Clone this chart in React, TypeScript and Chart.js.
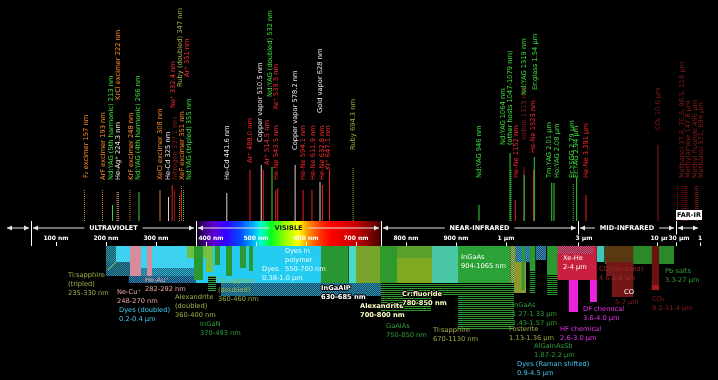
import React, { useEffect, useRef } from 'react';
import { Chart, registerables, LinearScale } from 'chart.js';

Chart.register(...registerables);

/* ---------------- wavelength axis: linear up to 1 µm, logarithmic beyond ---------------- */
const axisBreaksNm = [0, 1000, 3000, 10000, 30000, 1000000];
const axisBreakFrac = [6, 506, 578, 657, 676, 700].map((v) => v / 718);

function waveFrac(nm: number): number {
  if (nm <= axisBreaksNm[1]) {
    return axisBreakFrac[0] + ((axisBreakFrac[1] - axisBreakFrac[0]) * nm) / axisBreaksNm[1];
  }
  const n = axisBreaksNm.length;
  for (let i = 1; i < n - 1; i++) {
    const a = axisBreaksNm[i];
    const b = axisBreaksNm[i + 1];
    if (nm <= b || i === n - 2) {
      const t = Math.log(nm / a) / Math.log(b / a);
      return axisBreakFrac[i] + (axisBreakFrac[i + 1] - axisBreakFrac[i]) * t;
    }
  }
  return 1;
}
function fracWave(f: number): number {
  if (f <= axisBreakFrac[1]) {
    return ((f - axisBreakFrac[0]) / (axisBreakFrac[1] - axisBreakFrac[0])) * axisBreaksNm[1];
  }
  const n = axisBreaksNm.length;
  for (let i = 1; i < n - 1; i++) {
    if (f <= axisBreakFrac[i + 1] || i === n - 2) {
      const t = (f - axisBreakFrac[i]) / (axisBreakFrac[i + 1] - axisBreakFrac[i]);
      return axisBreaksNm[i] * Math.pow(axisBreaksNm[i + 1] / axisBreaksNm[i], t);
    }
  }
  return axisBreaksNm[n - 1];
}

class WaveScale extends LinearScale {
  static id = 'wave';
  static defaults = LinearScale.defaults;
  getPixelForValue(value: any) {
    if (value === null || value === undefined || isNaN(value)) return NaN;
    return this.getPixelForDecimal(waveFrac(value));
  }
  getValueForPixel(pixel: number) {
    return fracWave(this.getDecimalForPixel(pixel));
  }
}
Chart.register(WaveScale as any);

/* ---------------- spectral regions & ticks ---------------- */
const regionNames = ['', 'ULTRAVIOLET', 'VISIBLE', 'NEAR-INFRARED', 'MID-INFRARED', 'FAR-IR'];
const regionFrom = [-2, 50, 380, 750, 3000, 30000];
const regionTo = [50, 380, 750, 3000, 30000, 1000000];

const tickValues = [100, 200, 300, 400, 500, 600, 700, 800, 900, 1000, 3000, 10000, 30000, 1000000];
const tickLabels = ['100 nm', '200 nm', '300 nm', '400 nm', '500 nm', '600 nm', '700 nm', '800 nm', '900 nm', '1 µm', '3 µm', '10 µm', '30 µm', '1 mm'];

/* ---------------- emission lines ---------------- */
const lineNames = [
  'F₂ excimer 157 nm', 'ArF excimer 193 nm', 'Nd:YAG (5th harmonic) 213 nm', 'He-Ag⁺ 224.3 nm', 'KrCl excimer 222 nm',
  'KrF excimer 248 nm', 'Nd:YAG (4th harmonic) 266 nm', 'XeCl excimer 308 nm', 'He-Cd 325 nm', 'Ne⁺ 332.4 nm',
  'Nitrogen 337.1 nm', 'Ruby (doubled) 347 nm', 'XeF excimer 351 nm', 'Ar⁺ 351 nm', 'Nd:YAG (tripled) 355 nm',
  'He-Cd 441.6 nm', 'Ar⁺ 488.0 nm', 'Copper vapor 510.5 nm', 'Ar⁺ 514.5 nm', 'Nd:YAG (doubled) 532 nm',
  'Xe⁺ 539.5 nm', 'He-Ne 543.5 nm', 'Copper vapor 578.2 nm', 'He-Ne 594.1 nm', 'He-Ne 611.9 nm',
  'Gold vapor 628 nm', 'He-Ne 632.8 nm', 'Kr⁺ 647.1 nm', 'Ruby 694.3 nm', 'Nd:YAG 946 nm',
  'Nd:YAG 1064 nm\n(other hosts 1047-1079 nm)', '', 'He-Ne 1152 nm', 'Iodine 1315 nm', 'Nd:YAG 1319 nm',
  'He-Ne 1523 nm', 'Er:glass 1.54 µm', 'Tm:YAG 2.01 µm', 'Ho:YAG 2.08 µm', 'Er:YSGG 2.79 µm',
  'Er:YAG 2.94 µm', 'He-Ne 3.391 µm', 'CO₂ 10.6 µm', 'Methanol 37.9, 70.5, 96.5, 118 µm', '',
  '', '', 'Methylamine 147.8 µm', 'Methyl fluoride 496 µm', 'Methanol 571, 699 µm', '',
];
const lineWavelengths = [
  157, 193, 213, 224.3, 222, 248, 266, 308, 325, 332.4,
  337.1, 347, 351, 351, 355, 441.6, 488, 510.5, 514.5, 532,
  539.5, 543.5, 578.2, 594.1, 611.9, 628, 632.8, 647.1, 694.3, 946,
  1064, 1079, 1152, 1315, 1319, 1523, 1540, 2010, 2080, 2790,
  2940, 3391, 10600, 37900, 70500, 96500, 118000, 147800, 496000, 571000, 699000,
];
const lineHeights = [
  31, 31, 16, 29, 29, 31, 29, 31, 24, 36,
  31, 26, 36, 31, 31, 28, 51, 56, 51, 54,
  31, 33, 56, 31, 31, 39, 36, 51, 53, 16,
  68, 51, 21, 54, 46, 51, 64, 38, 38, 38,
  44, 26, 76, 36, 36, 36, 36, 36, 36, 36, 36,
];
const lineKinds = [
  'exc', 'exc', 'yag', 'white', 'exc', 'exc', 'yag', 'exc', 'white', 'red',
  'dark', 'olive', 'exc', 'red', 'yag', 'white', 'red', 'white', 'red', 'yag',
  'red', 'red', 'white', 'red', 'red', 'white', 'red', 'red', 'olive', 'yag',
  'yag', 'yag', 'red', 'dark', 'yag', 'red', 'yag', 'yag', 'yag', 'yag',
  'yag', 'red', 'dark', 'dark', 'dark', 'dark', 'dark', 'dark', 'dark', 'dark', 'dark',
];
// layout of the rotated labels (height of the label foot, sideways nudge in px) and dash style
const lineLabelLift = [
  43, 41, 41, 41, 121, 41, 41, 41, 41, 113,
  41, 134, 41, 144, 41, 41, 58, 79, 56, 124,
  111, 41, 71, 41, 41, 108, 41, 51, 71, 43,
  76, 0, 43, 81, 126, 68, 131, 43, 43, 43,
  43, 43, 91, 43, 0, 0, 0, 43, 43, 43, 0,
];
const lineLabelShift = [
  1.5, 0.5, -1.5, 0, 1, 1, -1, 0, -0.5, 0.8,
  0.5, 0.5, 0.5, 5.5, 5.5, 0, 0, -1, 4, -2,
  1, -1, 0, 0, 1, 0, 0, -1, 0, 0,
  -7, 0, 0.7, 0, 0, -0.6, 0.7, -2, 3, -1,
  0, 0, 0, 4.4, 0, 0, 0, 1, 0, 5, 0,
];
const lineDotted = [
  1, 1, 0, 1, 1, 1, 0, 0, 0, 0,
  0, 1, 1, 0, 1, 0, 0, 0, 0, 0,
  0, 0, 0, 0, 0, 0, 0, 0, 1, 0,
  0, 1, 0, 0, 0, 0, 0, 0, 0, 1,
  0, 0, 0, 1, 1, 1, 1, 1, 1, 1, 1,
];
const kindLabelColors: Record<string, string> = {
  exc: '#ff8c2a', yag: '#40e040', white: '#f4e6e6', red: '#ff2c2c', olive: '#a6b43c', dark: '#8a1c1c',
};
const kindLineColors: Record<string, string> = {
  exc: '#d07a30', yag: '#3ad03a', white: '#e8d0d0', red: '#ee2020', olive: '#9aaa38', dark: '#8a1a1a',
};

/* ---------------- tuning ranges (bands below the axis) ---------------- */
const bandNames = [
  'Dyes (doubled)', 'Dyes (doubled)', 'Ti:sapphire (tripled)', 'Ti:sapphire (tripled)', 'Ti:sapphire (doubled)',
  'Ne-Cu⁺', 'He-Au⁺', 'Dyes', 'Dyes', 'Alexandrite (doubled)',
  'InGaN', 'InGaN', 'InGaN', 'InGaN', 'InGaN', 'InGaN', 'InGaN',
  'InGaAlP', 'Dyes in polymer', 'Alexandrite', 'GaAlAs', 'Cr:fluoride', 'Cr:fluoride', 'Ti:sapphire',
  'InGaAs', 'Ti:sapphire', 'GaAlAs', 'Ti:sapphire', 'Ti:sapphire', 'Forsterite',
  'Dyes (Raman shifted)', 'InGaAs', 'InGaAs', 'InGaAs', 'Dyes (Raman shifted)',
  'Pb salts', 'Xe-He', 'Xe-He', 'AlGaInAsSb', 'AlGaInAsSb', 'HF chemical', 'DF chemical',
  'Dyes (Raman shifted)', 'CO (doubled)', 'CO (doubled)', 'CO', 'CO₂', 'CO₂',
];
const bandFrom = [
  200, 250, 200, 200, 245,
  248, 282, 380, 430, 362,
  376, 400, 418, 440, 468, 486, 404,
  630, 685, 700, 748, 782, 782, 852,
  904, 750, 750, 904, 1065, 1130,
  1150, 1270, 1430, 1430, 1570,
  4500, 2000, 2000, 1870, 1870, 2600, 3600,
  4000, 4500, 4600, 5000, 9200, 9200,
];
const bandTo = [
  392, 392, 220, 250, 440,
  270, 292, 660, 750, 402,
  394, 414, 428, 452, 480, 494, 420,
  685, 700, 748, 782, 852, 852, 904,
  1065, 1130, 850, 1130, 1130, 1360,
  1500, 1330, 1570, 1570, 1850,
  27000, 4000, 3800, 2200, 2200, 3000, 4000,
  4500, 7000, 5800, 7000, 11400, 11400,
];
// vertical placement (depth below the axis line) and fills: '#..' solid, 's:' stripes, 'c:' checker
const bandTopDepth = [
  25, 47, 25, 41, 55,
  25, 25, 25, 62, 25,
  25, 25, 25, 25, 25, 25, 55,
  25, 25, 25, 25, 25, 37, 25,
  25, 62, 75, 75, 25, 25,
  25, 25, 25, 50, 25,
  25, 25, 25, 25, 54, 59, 59,
  25, 25, 41, 41, 25, 64,
];
const bandBottomDepth = [
  47, 57, 41, 55, 62,
  55, 55, 62, 75, 37,
  59, 51, 44, 55, 47, 50, 71,
  62, 62, 62, 62, 37, 62, 62,
  62, 75, 91, 109, 62, 72,
  41, 69, 50, 72, 39,
  43, 59, 33, 54, 74, 91, 81,
  41, 41, 55, 76, 69, 69,
];
const bandFills = [
  '#3ed2f2', 'c:#2fb2d6', 'c:#2a98aa', 'c:#2a86a2', 'c:#2a7eb0',
  '#d68c9c', '#d68c9c', '#24ccf2', 'c:#2a8cb0', '#6cc040',
  '#2a9a30', '#7cc040', '#2a9a30', '#2a9a30', '#2a9a30', '#2a9a30', 's:#3aa040',
  '#2a9632', '#46dcc4', '#78a42c', '#2e9a2e', '#5aa02a', '#80aa22', '#4ac8a6',
  '#2aa236', 's:#2e9a2e', 's:#2e9a2e', 's:#2e9a2e', 'c:#a8c860', '#8a9a30',
  'c:#3a9ec8', '#2a9a30', '#2a9a30', 's:#2a9a30', 'c:#3a8ec0',
  '#2a8a2a', '#c8203e', 'c:#e0507a', '#2a9a30', 's:#2a9a30', '#ee22dd', '#ee22dd',
  '#3cc8b8', '#5a3812', '#6e1a1a', '#721616', '#6a1212', '#a81818',
];

/* ---------------- labels of the tuning ranges ---------------- */
const bandLabelTexts = [
  ['Ti:sapphire', '(tripled)', '235-330 nm'], ['Ne-Cu⁺', '248-270 nm'], ['He-Au⁺', '282-292 nm'],
  ['Dyes (doubled)', '0.2-0.4 µm'], ['Alexandrite', '(doubled)', '360-400 nm'], ['InGaN', '370-493 nm'],
  ['Ti:sapphire', '(doubled)', '360-460 nm'], ['Dyes', '0.38-1.0 µm'], ['Dyes in', 'polymer', '550-700 nm'],
  ['InGaAlP', '630-685 nm'], ['Alexandrite', '700-800 nm'], ['Cr:fluoride', '780-850 nm'],
  ['GaAlAs', '750-850 nm'], ['Ti:sapphire', '670-1130 nm'], ['InGaAs', '904-1065 nm'],
  ['InGaAs', '1.27-1.33 µm', '1.43-1.57 µm'], ['Fosterite', '1.13-1.36 µm'], ['AlGaInAsSb', '1.87-2.2 µm'],
  ['Dyes (Raman shifted)', '0.9-4.5 µm'], ['Xe-He', '2-4 µm'], ['HF chemical', '2.6-3.0 µm'],
  ['DF chemical', '3.6-4.0 µm'], ['CO (doubled)', '4.6-5.8 µm'], ['CO'], ['5-7 µm'],
  ['CO₂', '9.2-11.4 µm'], ['Pb salts', '3.3-27 µm'],
];
const bandLabelX = [68, 117, 145, 119, 175, 200, 218, 262, 285, 321, 360, 402, 386, 433, 461, 512, 509, 534, 517, 563, 560, 583, 599, 624, 615, 652, 665];
const bandLabelDepth = [54, 71, 59, 89, 76, 103, 60, 48, 30, 67, 85, 73, 105, 109, 36, 84, 108, 125, 143, 37, 108, 88, 48, 71, 81, 78, 50];
const bandLabelColors = [
  '#a4b048', '#eaa8a8', '#eaa8a8', '#44c8f0', '#a4b048', '#30a038', '#a4b048', '#f0ffff', '#f0ffff',
  '#ffffff', '#ffffc8', '#ffffc8', '#30a038', '#a4b048', '#ffffff', '#30a038', '#a4b048', '#30a038',
  '#44c8f0', '#ffffff', '#ee33ee', '#ee33ee', '#a02828', '#ffffff', '#8a2020', '#8a2020', '#30a038',
];
const bandLabelOutlined = [0, 0, 0, 0, 0, 0, 0, 0, 0, 1, 1, 1, 0, 0, 0, 0, 0, 0, 0, 0, 0, 0, 0, 0, 0, 0, 0];

/* ---------------- visible spectrum colours ---------------- */
const spectrumNm = [380, 395, 415, 440, 470, 495, 510, 530, 560, 585, 605, 630, 650, 700, 735, 750];
const spectrumColors = ['#0c0018', '#3a0078', '#6000d0', '#3000ff', '#0050ff', '#00b0ff', '#00ffd0', '#00ff20',
  '#a0ff00', '#ffff00', '#ff9000', '#ff3000', '#ff0000', '#c80000', '#700000', '#3a0000'];

function makeFill(spec: string): any {
  if (spec.startsWith('s:') || spec.startsWith('c:')) {
    const color = spec.slice(2);
    const c = document.createElement('canvas');
    c.width = 2; c.height = 2;
    const g = c.getContext('2d')!;
    g.fillStyle = '#000';
    g.fillRect(0, 0, 2, 2);
    g.fillStyle = color;
    if (spec[0] === 's') {
      g.fillRect(0, 0, 2, 1);
    } else {
      g.fillRect(0, 0, 1, 1);
      g.fillRect(1, 1, 1, 1);
      g.globalAlpha = 0.55;
      g.fillRect(1, 0, 1, 1);
      g.fillRect(0, 1, 1, 1);
    }
    return g.createPattern(c, 'repeat');
  }
  return spec;
}

const FONT = '"DejaVu Sans", "Liberation Sans", sans-serif';
const LABEL_SIZE = 6.7;

const overlayPlugin = {
  id: 'overlay',
  beforeDraw(chart: any) {
    const { ctx, width, height } = chart;
    ctx.save();
    ctx.fillStyle = '#000';
    ctx.fillRect(0, 0, width, height);
    ctx.restore();
  },
  afterDatasetsDraw(chart: any) {
    const ctx: CanvasRenderingContext2D = chart.ctx;
    const xs = chart.scales.x;
    const ys = chart.scales.y;
    const xp = (nm: number) => xs.getPixelForValue(nm);
    const yp = (v: number) => ys.getPixelForValue(v);

    const yTop = yp(0);
    const yBot = yp(-25);
    const yArrow = yp(-7);
    const yTick = yp(-17.5);

    ctx.save();
    // visible spectrum strip
    const gx0 = xp(380), gx1 = xp(750);
    const grad = ctx.createLinearGradient(gx0, 0, gx1, 0);
    spectrumNm.forEach((nm, i) => {
      const t = (xp(nm) - gx0) / (gx1 - gx0);
      grad.addColorStop(Math.min(1, Math.max(0, t)), spectrumColors[i]);
    });
    ctx.fillStyle = grad;
    ctx.fillRect(gx0, yTop, gx1 - gx0, yBot - yTop);

    // region boundaries
    ctx.strokeStyle = '#ffffff';
    ctx.lineWidth = 1;
    regionFrom.forEach((nm, i) => {
      if (i === 0) return;
      const x = Math.round(xp(nm)) + 0.5;
      ctx.beginPath();
      ctx.moveTo(x, yTop);
      ctx.lineTo(x, yBot);
      ctx.stroke();
    });

    // arrows and region names
    ctx.font = `bold 6.5px ${FONT}`;
    ctx.textAlign = 'center';
    ctx.textBaseline = 'middle';
    regionNames.forEach((name, i) => {
      const x0 = xp(regionFrom[i]) + 2;
      const x1 = xp(regionTo[i]) - 2;
      const cx = (x0 + x1) / 2;
      const showText = name && name !== 'FAR-IR';
      const w = showText ? ctx.measureText(name).width : 0;
      ctx.strokeStyle = '#e4e4e4';
      ctx.fillStyle = '#e4e4e4';
      ctx.beginPath();
      if (showText) {
        ctx.moveTo(x0, yArrow); ctx.lineTo(cx - w / 2 - 5, yArrow);
        ctx.moveTo(cx + w / 2 + 5, yArrow); ctx.lineTo(x1, yArrow);
      } else {
        ctx.moveTo(x0, yArrow); ctx.lineTo(x1, yArrow);
      }
      ctx.stroke();
      ctx.beginPath();
      ctx.moveTo(x0, yArrow); ctx.lineTo(x0 + 5, yArrow - 2.5); ctx.lineTo(x0 + 5, yArrow + 2.5); ctx.closePath();
      ctx.moveTo(x1, yArrow); ctx.lineTo(x1 - 5, yArrow - 2.5); ctx.lineTo(x1 - 5, yArrow + 2.5); ctx.closePath();
      ctx.fill();
      if (showText) {
        ctx.fillStyle = name === 'VISIBLE' ? '#1a1a1a' : '#ffffff';
        ctx.fillText(name, cx, yArrow + 0.5);
      }
      if (name === 'FAR-IR') {
        const bx0 = xp(regionFrom[i]);
        const by0 = yp(11);
        const by1 = yp(1);
        ctx.fillStyle = '#ffffff';
        ctx.fillRect(bx0, by0, 26, by1 - by0);
        ctx.fillStyle = '#000000';
        ctx.fillText(name, bx0 + 13, (by0 + by1) / 2 + 0.5);
      }
    });

    // ticks
    ctx.save();
    ctx.beginPath();
    ctx.rect(0, 0, 704, chart.height);
    ctx.clip();
    ctx.font = `bold 6px ${FONT}`;
    const tickShift = [0, 0, 0, 5, 0, 0, 0, 0, 0, 0, 6, 4, 3, 0];
    tickValues.forEach((v, i) => {
      const x = xp(v);
      ctx.strokeStyle = '#ffffff';
      ctx.beginPath();
      ctx.moveTo(Math.round(x) + 0.5, yp(-21));
      ctx.lineTo(Math.round(x) + 0.5, yBot);
      ctx.stroke();
      const label = tickLabels[i];
      const w = ctx.measureText(label).width;
      const last = i === tickValues.length - 1;
      const cx = last ? x - 2 + w / 2 : x + tickShift[i];
      if (v > 750) {
        ctx.fillStyle = '#000';
        ctx.fillRect(cx - w / 2 - 1, yTick - 4, w + 2, 8);
      }
      ctx.fillStyle = '#ffffff';
      ctx.textAlign = 'center';
      ctx.fillText(label, cx, yTick);
    });
    ctx.restore();

    // rotated emission-line labels
    ctx.font = `${LABEL_SIZE}px ${FONT}`;
    ctx.textAlign = 'left';
    ctx.textBaseline = 'middle';
    lineNames.forEach((name, i) => {
      if (!name) return;
      const x = xp(lineWavelengths[i]) + lineLabelShift[i];
      const y = yp(lineLabelLift[i]);
      ctx.save();
      ctx.translate(x, y);
      ctx.rotate(-Math.PI / 2);
      ctx.fillStyle = kindLabelColors[lineKinds[i]];
      name.split('\n').forEach((t, k) => ctx.fillText(t, 0, k * 7));
      ctx.restore();
    });

    // tuning-range labels
    ctx.textAlign = 'left';
    ctx.textBaseline = 'middle';
    ctx.lineJoin = 'round';
    bandLabelTexts.forEach((lines, i) => {
      lines.forEach((t, k) => {
        const x = bandLabelX[i];
        const y = yp(-(bandLabelDepth[i] + k * 9));
        if (bandLabelOutlined[i]) {
          ctx.font = `bold ${LABEL_SIZE}px ${FONT}`;
          ctx.strokeStyle = '#000';
          ctx.lineWidth = 2;
          ctx.strokeText(t, x, y);
        } else {
          ctx.font = `${LABEL_SIZE}px ${FONT}`;
        }
        ctx.fillStyle = bandLabelColors[i];
        ctx.fillText(t, x, y);
      });
    });
    // leader for Ti:sapphire (tripled)
    ctx.strokeStyle = '#a4b048';
    ctx.lineWidth = 1;
    ctx.beginPath();
    ctx.moveTo(108, yp(-49));
    ctx.lineTo(116, yp(-41));
    ctx.stroke();
    ctx.restore();
  },
};

export default function App() {
  const canvasRef = useRef<HTMLCanvasElement | null>(null);

  useEffect(() => {
    const canvas = canvasRef.current;
    if (!canvas) return;

    const datasets: any[] = [];
    bandNames.forEach((name, i) => {
      datasets.push({
        label: name,
        data: [
          { x: bandFrom[i], y: -bandTopDepth[i] },
          { x: bandTo[i], y: -bandTopDepth[i] },
        ],
        borderWidth: 0,
        borderColor: 'rgba(0,0,0,0)',
        backgroundColor: makeFill(bandFills[i]),
        fill: { value: -bandBottomDepth[i] },
        pointRadius: 0,
      });
    });
    lineNames.forEach((name, i) => {
      const kind = lineKinds[i];
      datasets.push({
        label: name || 'line',
        data: [
          { x: lineWavelengths[i], y: 0 },
          { x: lineWavelengths[i], y: lineHeights[i] },
        ],
        borderColor: kindLineColors[kind],
        borderWidth: 1,
        borderDash: lineDotted[i] ? [1, 1] : [],
        fill: false,
        pointRadius: 0,
      });
    });
    datasets.forEach((d, i) => { d.order = -i; });

    const chart = new Chart(canvas, {
      type: 'line',
      data: { datasets },
      options: {
        responsive: false,
        animation: false,
        events: [],
        devicePixelRatio: 1,
        layout: { padding: 0 },
        elements: { point: { radius: 0 }, line: { tension: 0 } },
        plugins: {
          legend: { display: false },
          tooltip: { enabled: false },
          filler: { propagate: false },
        },
        scales: {
          x: { type: 'wave' as any, min: -12, max: 1000000, display: false },
          y: { type: 'linear', min: -159, max: 221, display: false },
        },
      },
      plugins: [overlayPlugin],
    } as any);

    return () => chart.destroy();
  }, []);

  return (
    <div style={{ position: 'fixed', left: 0, top: 0, width: 718, height: 380, background: '#000' }}>
      <canvas ref={canvasRef} width={718} height={380} style={{ display: 'block', width: 718, height: 380 }} />
    </div>
  );
}
